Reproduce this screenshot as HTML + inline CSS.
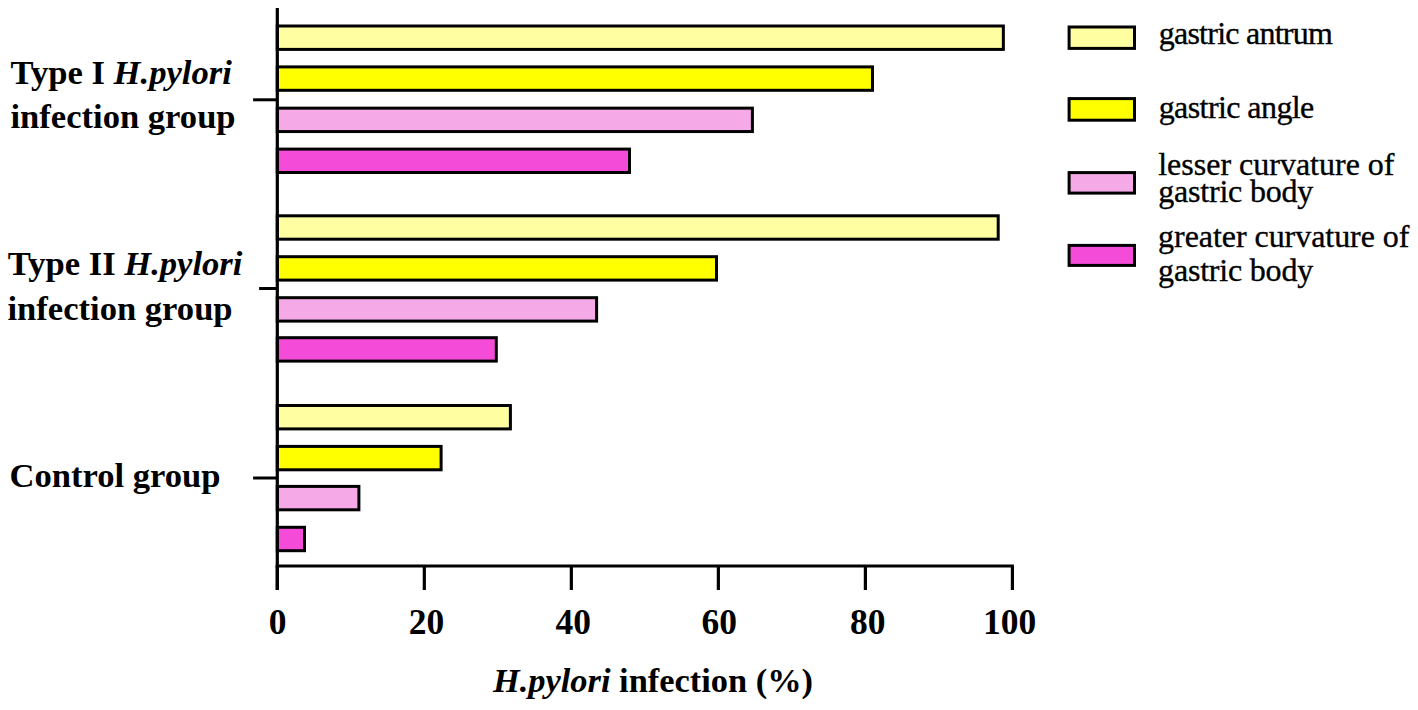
<!DOCTYPE html><html><head><meta charset="utf-8"><style>html,body{margin:0;padding:0;background:#fff;}svg{display:block;}text{font-family:"Liberation Serif",serif;fill:#000;}</style></head><body>
<svg width="1418" height="710" viewBox="0 0 1418 710">
<rect x="277.30" y="26.00" width="726.05" height="23.40" fill="#FFFFA2" stroke="#000" stroke-width="3.0"/>
<rect x="277.30" y="66.90" width="595.20" height="23.40" fill="#FFFF00" stroke="#000" stroke-width="3.0"/>
<rect x="277.30" y="108.15" width="475.10" height="23.40" fill="#F5A9E7" stroke="#000" stroke-width="3.0"/>
<rect x="277.30" y="149.10" width="352.20" height="23.40" fill="#F44BD8" stroke="#000" stroke-width="3.0"/>
<rect x="277.30" y="215.80" width="720.90" height="23.40" fill="#FFFFA2" stroke="#000" stroke-width="3.0"/>
<rect x="277.30" y="256.70" width="439.20" height="23.40" fill="#FFFF00" stroke="#000" stroke-width="3.0"/>
<rect x="277.30" y="297.70" width="319.30" height="23.40" fill="#F5A9E7" stroke="#000" stroke-width="3.0"/>
<rect x="277.30" y="337.70" width="219.00" height="23.40" fill="#F44BD8" stroke="#000" stroke-width="3.0"/>
<rect x="277.30" y="405.50" width="233.10" height="23.40" fill="#FFFFA2" stroke="#000" stroke-width="3.0"/>
<rect x="277.30" y="446.40" width="163.80" height="23.40" fill="#FFFF00" stroke="#000" stroke-width="3.0"/>
<rect x="277.30" y="486.40" width="81.60" height="23.40" fill="#F5A9E7" stroke="#000" stroke-width="3.0"/>
<rect x="277.30" y="527.30" width="27.20" height="23.40" fill="#F44BD8" stroke="#000" stroke-width="3.0"/>
<line x1="277.3" y1="8" x2="277.3" y2="590" stroke="#000" stroke-width="3.2"/>
<line x1="275.7" y1="566" x2="1013.9" y2="566" stroke="#000" stroke-width="3.2"/>
<line x1="277.30" y1="566" x2="277.30" y2="590" stroke="#000" stroke-width="3.2"/>
<line x1="424.32" y1="566" x2="424.32" y2="590" stroke="#000" stroke-width="3.2"/>
<line x1="571.34" y1="566" x2="571.34" y2="590" stroke="#000" stroke-width="3.2"/>
<line x1="718.36" y1="566" x2="718.36" y2="590" stroke="#000" stroke-width="3.2"/>
<line x1="865.38" y1="566" x2="865.38" y2="590" stroke="#000" stroke-width="3.2"/>
<line x1="1012.40" y1="566" x2="1012.40" y2="590" stroke="#000" stroke-width="3.2"/>
<line x1="253.1" y1="99.8" x2="277.3" y2="99.8" stroke="#000" stroke-width="3"/>
<line x1="259.1" y1="288.5" x2="277.3" y2="288.5" stroke="#000" stroke-width="3"/>
<line x1="253.1" y1="478.0" x2="277.3" y2="478.0" stroke="#000" stroke-width="3"/>
<text x="277.60" y="634" font-size="35.5" font-weight="bold" text-anchor="middle">0</text>
<text x="426.52" y="634" font-size="35.5" font-weight="bold" text-anchor="middle">20</text>
<text x="573.14" y="634" font-size="35.5" font-weight="bold" text-anchor="middle">40</text>
<text x="719.16" y="634" font-size="35.5" font-weight="bold" text-anchor="middle">60</text>
<text x="867.78" y="634" font-size="35.5" font-weight="bold" text-anchor="middle">80</text>
<text x="1009.60" y="634" font-size="35.5" font-weight="bold" text-anchor="middle">100</text>
<text x="10.5" y="83.5" font-size="34.6" font-weight="bold">Type I <tspan font-style="italic">H.pylori</tspan></text>
<text x="10.5" y="128" font-size="34.6" font-weight="bold">infection group</text>
<text x="7.7" y="274.9" font-size="34.6" font-weight="bold">Type II <tspan font-style="italic">H.pylori</tspan></text>
<text x="7.5" y="320.2" font-size="34.6" font-weight="bold">infection group</text>
<text x="9.5" y="486.9" font-size="34.6" font-weight="bold">Control group</text>
<text x="493" y="692" font-size="34.4" font-weight="bold"><tspan font-style="italic">H.pylori</tspan> infection (%)</text>
<rect x="1069.10" y="27.00" width="65.40" height="21.40" fill="#FFFFA2" stroke="#000" stroke-width="3.0"/>
<rect x="1069.10" y="98.60" width="65.40" height="21.60" fill="#FFFF00" stroke="#000" stroke-width="3.0"/>
<rect x="1069.10" y="172.60" width="65.40" height="20.50" fill="#F5A9E7" stroke="#000" stroke-width="3.0"/>
<rect x="1069.10" y="245.40" width="65.40" height="20.00" fill="#F44BD8" stroke="#000" stroke-width="3.0"/>
<text x="1158.7" y="43.6" font-size="32" letter-spacing="-0.75" stroke="#000" stroke-width="0.35">gastric antrum</text>
<text x="1158.7" y="118" font-size="32" letter-spacing="-0.58" stroke="#000" stroke-width="0.35">gastric angle</text>
<text x="1158.2" y="174.9" font-size="32" letter-spacing="0" stroke="#000" stroke-width="0.35">lesser curvature of</text>
<text x="1158.2" y="202.4" font-size="32" letter-spacing="-0.2" stroke="#000" stroke-width="0.35">gastric body</text>
<text x="1158.1" y="247.2" font-size="32" letter-spacing="-0.05" stroke="#000" stroke-width="0.35">greater curvature of</text>
<text x="1158.1" y="280.5" font-size="32" letter-spacing="-0.2" stroke="#000" stroke-width="0.35">gastric body</text>
</svg></body></html>
